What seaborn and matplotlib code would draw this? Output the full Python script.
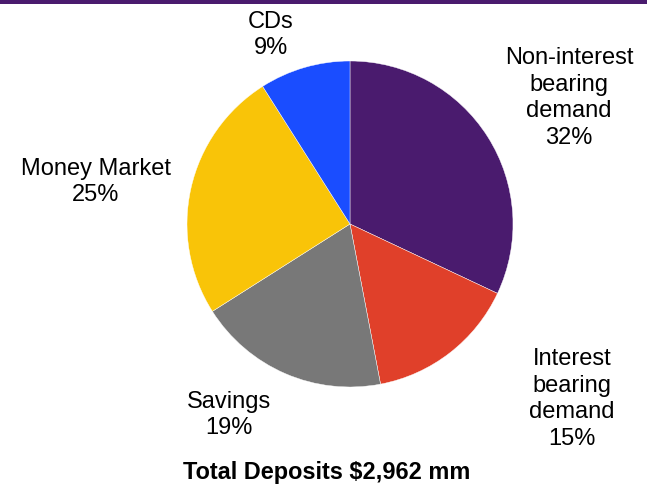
import matplotlib
matplotlib.use("Agg")
import matplotlib.pyplot as plt
import seaborn as sns
from matplotlib.patches import Rectangle

categories = ["Non-interest\nbearing\ndemand", "Interest\nbearing\ndemand", "Savings", "Money Market", "CDs"]
shares = [32, 15, 19, 25, 9]
pct_labels = ["32%", "15%", "19%", "25%", "9%"]
title_text = "Total Deposits $2,962 mm"
colors = ["#4A1B6E", "#E0402A", "#787878", "#F9C408", "#1A4DFF"]

sns.set_theme(style="white")
plt.rcParams["font.family"] = ["Liberation Sans", "DejaVu Sans"]

W, H = 647, 490
fig = plt.figure(figsize=(W / 100, H / 100), dpi=100)
fig.patch.set_facecolor("white")

# top purple rule
fig.patches.append(Rectangle((0, 1 - 4.5 / H), 1, 4.5 / H, transform=fig.transFigure,
                             facecolor="#4A1B6E", edgecolor="none", zorder=5))

cx, cy, r = 350, 224, 163
ax = fig.add_axes([(cx - r) / W, (H - cy - r) / H, 2 * r / W, 2 * r / H])
ax.pie(shares, colors=colors, startangle=90, counterclock=False, radius=1,
       wedgeprops=dict(edgecolor="white", linewidth=0.3))
ax.set_xlim(-1, 1)
ax.set_ylim(-1, 1)
ax.set_aspect("equal")
ax.axis("off")

# label centers in pixels (x, y from top)
label_pos = [(569, 98), (572, 399), (229, 415), (96, 182), (271, 35)]
for cat, pct, (px, py) in zip(categories, pct_labels, label_pos):
    fig.text(px / W, 1 - py / H, f"{cat}\n{pct}", ha="center", va="center",
             fontsize=17, linespacing=1.27, color="black")

fig.text(327 / W, 1 - 472 / H, title_text, ha="center", va="center",
         fontsize=16.9, fontweight="bold", color="black")

fig.savefig("out.png", dpi=100, facecolor="white")
